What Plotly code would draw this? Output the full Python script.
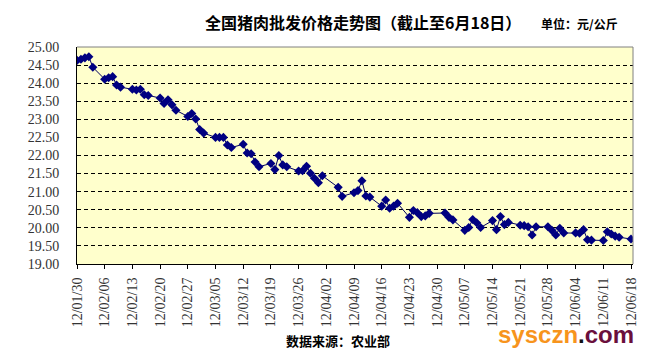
import plotly.graph_objects as go

dates = [
    "2012-01-30", "2012-01-31", "2012-02-01", "2012-02-02", "2012-02-03",
    "2012-02-06", "2012-02-07", "2012-02-08", "2012-02-09", "2012-02-10",
    "2012-02-13", "2012-02-14", "2012-02-15", "2012-02-16", "2012-02-17",
    "2012-02-20", "2012-02-21", "2012-02-22", "2012-02-23", "2012-02-24",
    "2012-02-27", "2012-02-28", "2012-02-29", "2012-03-01", "2012-03-02",
    "2012-03-05", "2012-03-06", "2012-03-07", "2012-03-08", "2012-03-09",
    "2012-03-12", "2012-03-13", "2012-03-14", "2012-03-15", "2012-03-16",
    "2012-03-19", "2012-03-20", "2012-03-21", "2012-03-22", "2012-03-23",
    "2012-03-26", "2012-03-27", "2012-03-28", "2012-03-29", "2012-03-30", "2012-03-31", "2012-04-01",
    "2012-04-05", "2012-04-06",
    "2012-04-09", "2012-04-10", "2012-04-11", "2012-04-12", "2012-04-13",
    "2012-04-16", "2012-04-17", "2012-04-18", "2012-04-19", "2012-04-20",
    "2012-04-23", "2012-04-24", "2012-04-25", "2012-04-26", "2012-04-27", "2012-04-28",
    "2012-05-02", "2012-05-03", "2012-05-04",
    "2012-05-07", "2012-05-08", "2012-05-09", "2012-05-10", "2012-05-11",
    "2012-05-14", "2012-05-15", "2012-05-16", "2012-05-17", "2012-05-18",
    "2012-05-21", "2012-05-22", "2012-05-23", "2012-05-24", "2012-05-25",
    "2012-05-28", "2012-05-29", "2012-05-30", "2012-05-31", "2012-06-01",
    "2012-06-04", "2012-06-05", "2012-06-06", "2012-06-07", "2012-06-08",
    "2012-06-11", "2012-06-12", "2012-06-13", "2012-06-14", "2012-06-15",
    "2012-06-18",
]

prices = [
    24.63, 24.66, 24.70, 24.73, 24.44,
    24.11, 24.15, 24.18, 23.95, 23.89,
    23.83, 23.81, 23.83, 23.68, 23.66,
    23.59, 23.44, 23.54, 23.40, 23.25,
    23.08, 23.16, 23.01, 22.72, 22.62,
    22.50, 22.50, 22.50, 22.29, 22.22,
    22.31, 22.07, 22.05, 21.82, 21.69,
    21.78, 21.61, 22.00, 21.74, 21.69,
    21.57, 21.58, 21.70, 21.51, 21.37, 21.25, 21.44,
    21.12, 20.87,
    20.97, 21.03, 21.30, 20.88, 20.85,
    20.60, 20.77, 20.54, 20.60, 20.68,
    20.29, 20.48, 20.42, 20.31, 20.33, 20.40,
    20.41, 20.29, 20.22,
    19.93, 20.01, 20.23, 20.14, 20.01,
    20.20, 19.95, 20.31, 20.09, 20.15,
    20.07, 20.06, 20.03, 19.80, 20.03,
    20.03, 19.93, 19.80, 19.99, 19.86,
    19.86, 19.85, 19.95, 19.67, 19.66,
    19.65, 19.89, 19.83, 19.77, 19.74,
    19.69,
]

title_text = "全国猪肉批发价格走势图（截止至6月18日）"
unit_text = "单位：元/公斤"
source_text = "数据来源：农业部"

W, H = 659, 360
L, R, T, B = 77, 633, 47, 264
SERIF = "Liberation Serif, Times New Roman, serif"
CJK = "Noto Sans CJK SC"


def px(x):
    return (x - L) / (R - L)


def py(y):
    return (B - y) / (B - T)


fig = go.Figure()
fig.add_trace(go.Scatter(
    x=dates, y=prices, mode="lines+markers",
    line=dict(color="#000060", width=1),
    marker=dict(symbol="diamond", size=7, color="#000080",
                line=dict(width=0)),
    showlegend=False, hoverinfo="x+y",
))

fig.update_layout(
    width=W, height=H,
    margin=dict(l=L, r=W - R, t=T, b=H - B, pad=0),
    paper_bgcolor="white",
    plot_bgcolor="#FFFFCC",
    xaxis=dict(
        type="date",
        range=["2012-01-30", "2012-06-18 12:00"],
        tick0="2012-01-30", dtick=7 * 24 * 3600 * 1000,
        tickformat="%y/%m/%d", tickangle=-90,
        ticks="outside", ticklen=4, tickcolor="black", tickwidth=1,
        showgrid=False, showline=True, linecolor="black", linewidth=1,
        tickfont=dict(family=SERIF, size=14, color="#333333"),
        ticklabelstandoff=3,
        zeroline=False, automargin=False,
    ),
    yaxis=dict(
        range=[19, 25], dtick=0.5, tick0=19, tickformat=".2f",
        showgrid=True, gridcolor="black", gridwidth=1, griddash="4px,3px",
        showline=True, linecolor="black", linewidth=1,
        ticks="", ticklabelstandoff=14,
        tickfont=dict(family=SERIF, size=14, color="#333333"),
        zeroline=False, automargin=False,
    ),
    shapes=[
        dict(type="line", xref="paper", yref="paper", x0=0, x1=1, y0=1, y1=1,
             line=dict(color="#808080", width=1)),
        dict(type="line", xref="paper", yref="paper", x0=1, x1=1, y0=0, y1=1,
             line=dict(color="#808080", width=1)),
    ],
    annotations=[
        dict(text=title_text, xref="paper", yref="paper", x=px(363), y=py(22),
             xanchor="center", yanchor="middle", showarrow=False,
             font=dict(family=CJK, size=16, color="black", weight="bold")),
        dict(text=unit_text, xref="paper", yref="paper", x=px(579), y=py(23),
             xanchor="center", yanchor="middle", showarrow=False,
             font=dict(family=CJK, size=12, color="black", weight="bold")),
        dict(text=source_text, xref="paper", yref="paper", x=px(338), y=py(340),
             xanchor="center", yanchor="middle", showarrow=False,
             font=dict(family=CJK, size=13, color="black", weight="bold")),
        dict(text="<span style='color:#F7941D'>sysczn</span><span style='color:#111111'>.</span><span style='color:#6A0F3C'>com</span>",
             xref="paper", yref="paper", x=px(566), y=py(334),
             xanchor="center", yanchor="middle", showarrow=False,
             font=dict(family="Liberation Sans", size=24, weight="bold")),
    ],
)

fig.write_html("out.html", config={"displayModeBar": False},
               post_script="document.body.style.margin='0';")
